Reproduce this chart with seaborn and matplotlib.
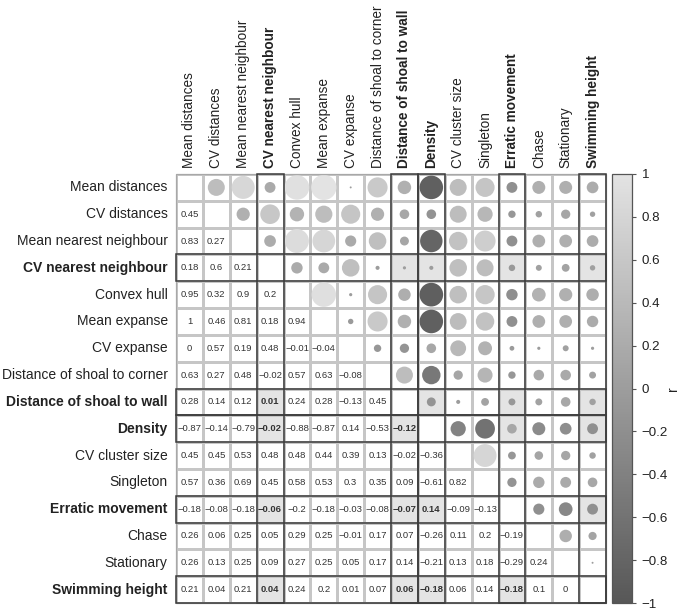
import numpy as np
import pandas as pd
import matplotlib
matplotlib.use('Agg')
import matplotlib.pyplot as plt
import seaborn as sns
from matplotlib.colors import ListedColormap, LinearSegmentedColormap, Normalize
from matplotlib.patches import Rectangle
from matplotlib.cm import ScalarMappable

# Variables (rows = columns, same order)
labels = ['Mean distances', 'CV distances', 'Mean nearest neighbour',
          'CV nearest neighbour', 'Convex hull', 'Mean expanse', 'CV expanse',
          'Distance of shoal to corner', 'Distance of shoal to wall', 'Density',
          'CV cluster size', 'Singleton', 'Erratic movement', 'Chase',
          'Stationary', 'Swimming height']
bold_vars = ['CV nearest neighbour', 'Distance of shoal to wall', 'Density',
             'Erratic movement', 'Swimming height']

# Lower triangle of the correlation matrix (row i, columns 0..i-1)
lower = [
    [],
    [0.45],
    [0.83, 0.27],
    [0.18, 0.6, 0.21],
    [0.95, 0.32, 0.9, 0.2],
    [1, 0.46, 0.81, 0.18, 0.94],
    [0, 0.57, 0.19, 0.48, -0.01, -0.04],
    [0.63, 0.27, 0.48, -0.02, 0.57, 0.63, -0.08],
    [0.28, 0.14, 0.12, 0.01, 0.24, 0.28, -0.13, 0.45],
    [-0.87, -0.14, -0.79, -0.02, -0.88, -0.87, 0.14, -0.53, -0.12],
    [0.45, 0.45, 0.53, 0.48, 0.48, 0.44, 0.39, 0.13, -0.02, -0.36],
    [0.57, 0.36, 0.69, 0.45, 0.58, 0.53, 0.3, 0.35, 0.09, -0.61, 0.82],
    [-0.18, -0.08, -0.18, -0.06, -0.2, -0.18, -0.03, -0.08, -0.07, 0.14, -0.09, -0.13],
    [0.26, 0.06, 0.25, 0.05, 0.29, 0.25, -0.01, 0.17, 0.07, -0.26, 0.11, 0.2, -0.19],
    [0.26, 0.13, 0.25, 0.09, 0.27, 0.25, 0.05, 0.17, 0.14, -0.21, 0.13, 0.18, -0.29, 0.24],
    [0.21, 0.04, 0.21, 0.04, 0.24, 0.2, 0.01, 0.07, 0.06, -0.18, 0.06, 0.14, -0.18, 0.1, 0],
]

n = len(labels)
R = np.eye(n)
for i, row in enumerate(lower):
    for j, v in enumerate(row):
        R[i, j] = v
        R[j, i] = v

is_bold = np.array([lab in bold_vars for lab in labels])
shade = np.outer(is_bold, is_bold).astype(float)
np.fill_diagonal(shade, 0)
shade_df = pd.DataFrame(shade, index=labels, columns=labels)

# upper triangle -> circles
rows = []
for i in range(n):
    for j in range(i + 1, n):
        rows.append({'x': j + 0.5, 'y': i + 0.5, 'r': R[i, j], 'absr': abs(R[i, j])})
circles = pd.DataFrame(rows)

sns.set_style('white')
plt.rcParams['font.family'] = ['Liberation Sans', 'DejaVu Sans']

grey_cmap = LinearSegmentedColormap.from_list('greys_r', ['#575757', '#e3e3e3'])
W, H = 685, 610
fig = plt.figure(figsize=(W / 100, H / 100), dpi=100)
ax = fig.add_axes([176 / W, 1 - 603 / H, 430 / W, 429 / H])
cax = fig.add_axes([612 / W, 1 - 603 / H, 20 / W, 429 / H])

sns.heatmap(shade_df, cmap=ListedColormap(['white', '#e4e4e4']), vmin=0, vmax=1,
            cbar=False, linewidths=0.8, linecolor='#c6c6c6', ax=ax,
            xticklabels=labels, yticklabels=labels)

sns.scatterplot(data=circles, x='x', y='y', hue='r', size='absr',
                palette=grey_cmap, hue_norm=(-1, 1), sizes=(2, 330),
                size_norm=(0, 1), linewidth=0, legend=False, ax=ax, zorder=3)

# numbers in lower triangle
for i in range(n):
    for j in range(i):
        v = R[i, j]
        txt = f"{v:g}".replace('-', '\u2212')
        ax.text(j + 0.5, i + 0.5, txt, ha='center', va='center', fontsize=6.8,
                color='#333333', fontweight='bold' if shade[i, j] else 'normal')

# dark frames around highlighted rows and columns
for k in np.where(is_bold)[0]:
    ax.add_patch(Rectangle((0, k), n, 1, fill=False, edgecolor='#3c3c3c',
                           lw=1.1, zorder=5, clip_on=False))
    ax.add_patch(Rectangle((k, 0), 1, n, fill=False, edgecolor='#3c3c3c',
                           lw=1.1, zorder=5, clip_on=False))
ax.add_patch(Rectangle((0, 0), n, n, fill=False, edgecolor='#a8a8a8',
                       lw=0.9, zorder=4, clip_on=False))

ax.set_xlim(0, n)
ax.set_ylim(n, 0)
ax.set_xlabel('')
ax.set_ylabel('')
ax.xaxis.tick_top()
ax.tick_params(axis='y', length=0, labelsize=10.0, colors='#222222', pad=6)
ax.tick_params(axis='x', length=0, labelsize=9.8, colors='#222222', pad=4)
plt.setp(ax.get_xticklabels(), rotation=90, va='bottom', ha='center')
plt.setp(ax.get_yticklabels(), rotation=0)
for lab in ax.get_xticklabels() + ax.get_yticklabels():
    if lab.get_text() in bold_vars:
        lab.set_fontweight('bold')

# colour bar
sm = ScalarMappable(norm=Normalize(-1, 1), cmap=grey_cmap)
cb = fig.colorbar(sm, cax=cax)
cb_ticks = np.round(np.arange(-1, 1.01, 0.2), 1)
cb.set_ticks(cb_ticks)
cb.set_ticklabels([('0' if abs(t) < 1e-9 else f"{t:g}".replace('-', '\u2212')) for t in cb_ticks])
cb.outline.set_edgecolor('#555555')
cb.outline.set_linewidth(0.9)
cax.tick_params(axis='y', labelsize=9.6, length=3, width=0.8, colors='#555555',
                labelcolor='#222222', pad=4)
fig.text(673 / W, 1 - 389 / H, 'r', rotation=90, fontsize=10, color='#222222',
         ha='center', va='center')

fig.savefig('out.png', dpi=100)
